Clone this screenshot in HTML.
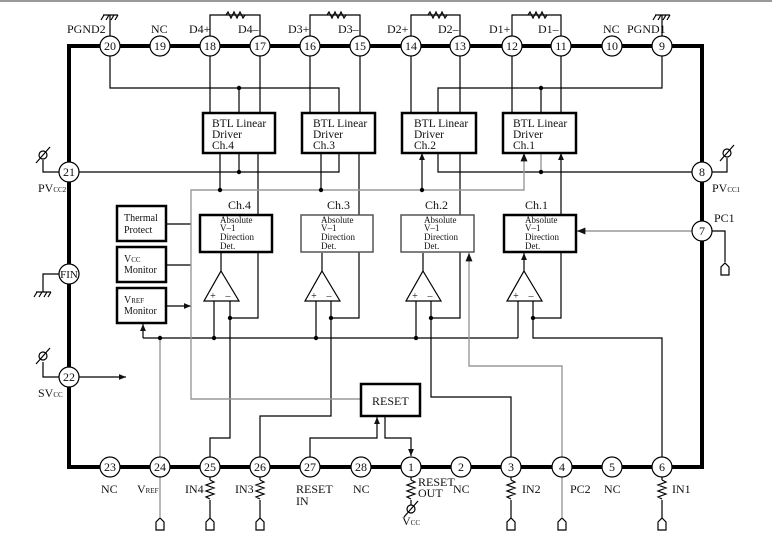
<!DOCTYPE html>
<html><head><meta charset="utf-8"><style>html,body{margin:0;padding:0;background:#fff}svg{display:block}text{font-family:"Liberation Serif",serif;fill:#111}</style></head><body>
<svg width="772" height="539" viewBox="0 0 772 539" xmlns="http://www.w3.org/2000/svg">
<defs>
<marker id="a" viewBox="0 0 6 6" refX="6" refY="3" markerWidth="6" markerHeight="6" orient="auto"><path d="M0,0.5 L6,3 L0,5.5z" fill="#111"/></marker>
<marker id="g" viewBox="0 0 6 6" refX="6" refY="3" markerWidth="6" markerHeight="6" orient="auto"><path d="M0,0.5 L6,3 L0,5.5z" fill="#111"/></marker>
</defs>
<line x1="0" y1="1" x2="772" y2="1" stroke="#333" stroke-width="1"/>
<rect x="69" y="46" width="633" height="421" fill="none" stroke="#000" stroke-width="4"/>

<g fill="none" stroke="#000" stroke-width="1.2">
<path d="M110,46V15M662,46V15"/>
<path d="M210,46V15H260V46M310,46V15H360V46M411,46V15H460V46M512,46V15H561V46"/>
<path d="M110,46V88H339V113M239,88V113M662,46V88H438V113M541,88V113"/>
<path d="M210,46V113M260,46V113M310,46V113M360,46V113M411,46V113M460,46V113M512,46V113M561,46V113"/>
<path d="M69,172H339V153M239,172V153M702,172H438V153"/>
<path d="M60,172H43V160M702,172H727V158"/>
<path d="M258,215V153M359,215V153M460,215V153M561,215V153" marker-end="url(#a)"/>
<path d="M258,252V318H230M359,252V318H331M460,252V318H431M561,252V318H533"/>
<path d="M214,301V338M316,301V338M416,301V338M518,301V338M143,338H518"/>
<path d="M230,301V438H210V457M331,301V416H260V457M431,301V397H511V457M533,301V338H662V457"/>
<path d="M221,271V253M322,271V253M423,271V253M524,271V253" marker-end="url(#a)"/>
<path d="M220,190V153M321,190V153M422,190V153" marker-end="url(#a)"/>
<path d="M166,224H191M166,265H191M166,306H191" marker-end="url(#a)"/>
<path d="M143,338V324" marker-end="url(#a)"/>
<path d="M79,377H126" marker-end="url(#a)"/>
<path d="M60,377H43V362"/>
<path d="M60,274H43V292"/>
<path d="M310,457V438H377V417" marker-end="url(#a)"/>
<path d="M385,416V438H411V456" marker-end="url(#a)"/>
<path d="M712,231H725V262"/>
<path d="M210,477V480M210,500V518M260,477V480M260,500V518M411,477V480M511,477V480M511,500V518M662,477V480M662,500V518"/>
<path d="M210,480l4,2l-8,3l8,3l-8,3l8,3l-8,3l4,2M260,480l4,2l-8,3l8,3l-8,3l8,3l-8,3l4,2M411,480l4,2l-8,3l8,3l-8,3l8,3l-8,3l4,2M511,480l4,2l-8,3l8,3l-8,3l8,3l-8,3l4,2M662,480l4,2l-8,3l8,3l-8,3l8,3l-8,3l4,2"/>
<path d="M411,500V505"/>
<path d="M226,15l2,-3l3,6l3,-6l3,6l3,-6l3,6l2,-3M327,15l2,-3l3,6l3,-6l3,6l3,-6l3,6l2,-3M428,15l2,-3l3,6l3,-6l3,6l3,-6l3,6l2,-3M528,15l2,-3l3,6l3,-6l3,6l3,-6l3,6l2,-3"/>
<path d="M103,15H118M104,15l-3,5M109,15l-3,5M114,15l-3,5M118,15l-3,5"/>
<path d="M655,15H670M656,15l-3,5M661,15l-3,5M666,15l-3,5M670,15l-3,5"/>
<path d="M36,292H51M37,292l-3,5M42,292l-3,5M47,292l-3,5M51,292l-3,5"/>
<circle cx="43" cy="155" r="4"/><path d="M36,163L50,147"/>
<circle cx="43" cy="356" r="4"/><path d="M36,364L50,348"/>
<circle cx="727" cy="153" r="4"/><path d="M720,161L734,145"/>
<circle cx="411" cy="509" r="4"/><path d="M404,517L418,501"/>
<path d="M156,530V522L160,518L164,522V530Z"/>
<path d="M206,530V522L210,518L214,522V530Z"/>
<path d="M256,530V522L260,518L264,522V530Z"/>
<path d="M507,530V522L511,518L515,522V530Z"/>
<path d="M558,530V522L562,518L566,522V530Z"/>
<path d="M658,530V522L662,518L666,522V530Z"/>
<path d="M721,275V267L725,263L729,267V275Z"/>
</g>
<g fill="none" stroke="#999" stroke-width="1.4">
<path d="M361,399H191V190H524V153" marker-end="url(#g)"/>
<path d="M541,172V153"/>
<path d="M160,338V457M160,477V518"/>
<path d="M562,457V366H469V253" marker-end="url(#g)"/>
<path d="M562,477V518"/>
<path d="M712,231H577" marker-end="url(#g)"/>
</g>
<g fill="#000">
<circle cx="239" cy="88" r="2.2"/><circle cx="541" cy="88" r="2.2"/>
<circle cx="239" cy="172" r="2.2"/><circle cx="541" cy="172" r="2.2"/>
<circle cx="220" cy="190" r="2.2"/><circle cx="321" cy="190" r="2.2"/><circle cx="422" cy="190" r="2.2"/>
<circle cx="230" cy="318" r="2.2"/><circle cx="331" cy="318" r="2.2"/><circle cx="431" cy="318" r="2.2"/><circle cx="533" cy="318" r="2.2"/>
<circle cx="214" cy="338" r="2.2"/><circle cx="316" cy="338" r="2.2"/><circle cx="416" cy="338" r="2.2"/><circle cx="160" cy="338" r="2.2"/>
</g>
<g fill="#fff" stroke="#000" stroke-width="2.5">
<rect x="203" y="113" width="72" height="40"/>
<rect x="302" y="113" width="73" height="40"/>
<rect x="402" y="113" width="74" height="40"/>
<rect x="503" y="113" width="73" height="40"/>
<rect x="200" y="215" width="72" height="37"/>
<rect x="504" y="215" width="72" height="37"/>
<rect x="117" y="206" width="49" height="35"/>
<rect x="117" y="247" width="49" height="35"/>
<rect x="117" y="288" width="49" height="35"/>
<rect x="361" y="384" width="59" height="32"/>
</g>
<g fill="#fff" stroke="#555" stroke-width="1.5">
<rect x="301" y="215" width="72" height="37"/>
<rect x="401" y="215" width="73" height="37"/>
</g>
<g fill="#fff" stroke="#000" stroke-width="1.2">
<path d="M221,271L239,301H204Z"/><path d="M322,271L340,301H305Z"/><path d="M423,271L441,301H406Z"/><path d="M524,271L542,301H507Z"/>
</g>
<g font-size="10" text-anchor="middle">
<text x="213" y="299">+</text><text x="228" y="299">–</text>
<text x="314" y="299">+</text><text x="329" y="299">–</text>
<text x="415" y="299">+</text><text x="430" y="299">–</text>
<text x="516" y="299">+</text><text x="531" y="299">–</text>
</g>
<g fill="#fff" stroke="#000" stroke-width="1.2">
<circle cx="110" cy="46" r="10"/><circle cx="160" cy="46" r="10"/><circle cx="210" cy="46" r="10"/><circle cx="260" cy="46" r="10"/><circle cx="310" cy="46" r="10"/><circle cx="360" cy="46" r="10"/><circle cx="411" cy="46" r="10"/><circle cx="460" cy="46" r="10"/><circle cx="512" cy="46" r="10"/><circle cx="561" cy="46" r="10"/><circle cx="612" cy="46" r="10"/><circle cx="662" cy="46" r="10"/>
<circle cx="110" cy="467" r="10"/><circle cx="160" cy="467" r="10"/><circle cx="210" cy="467" r="10"/><circle cx="260" cy="467" r="10"/><circle cx="310" cy="467" r="10"/><circle cx="361" cy="467" r="10"/><circle cx="411" cy="467" r="10"/><circle cx="461" cy="467" r="10"/><circle cx="511" cy="467" r="10"/><circle cx="562" cy="467" r="10"/><circle cx="612" cy="467" r="10"/><circle cx="662" cy="467" r="10"/>
<circle cx="69" cy="172" r="10"/><circle cx="69" cy="274" r="10"/><circle cx="69" cy="377" r="10"/>
<circle cx="702" cy="172" r="10"/><circle cx="702" cy="231" r="10"/>
</g>
<g font-size="12" text-anchor="middle">
<text x="110" y="50">20</text><text x="160" y="50">19</text><text x="210" y="50">18</text><text x="260" y="50">17</text><text x="310" y="50">16</text><text x="360" y="50">15</text><text x="411" y="50">14</text><text x="460" y="50">13</text><text x="512" y="50">12</text><text x="561" y="50">11</text><text x="612" y="50">10</text><text x="662" y="50">9</text>
<text x="110" y="471">23</text><text x="160" y="471">24</text><text x="210" y="471">25</text><text x="260" y="471">26</text><text x="310" y="471">27</text><text x="361" y="471">28</text><text x="411" y="471">1</text><text x="461" y="471">2</text><text x="511" y="471">3</text><text x="562" y="471">4</text><text x="612" y="471">5</text><text x="662" y="471">6</text>
<text x="69" y="176">21</text><text x="69" y="278" font-size="11">FIN</text><text x="69" y="381">22</text>
<text x="702" y="176">8</text><text x="702" y="235">7</text>
</g>
<g font-size="12">
<text x="67" y="33">PGND2</text><text x="151" y="33">NC</text><text x="189" y="33">D4+</text><text x="238" y="33">D4–</text>
<text x="288" y="33">D3+</text><text x="338" y="33">D3–</text><text x="387" y="33">D2+</text><text x="438" y="33">D2–</text>
<text x="489" y="33">D1+</text><text x="538" y="33">D1–</text><text x="603" y="33">NC</text><text x="627" y="33">PGND1</text>
<text x="38" y="192">PV<tspan font-size="7">CC2</tspan></text>
<text x="712" y="192">PV<tspan font-size="7">CC1</tspan></text>
<text x="714" y="222">PC1</text>
<text x="38" y="397">SV<tspan font-size="7">CC</tspan></text>
<text x="101" y="493">NC</text><text x="137" y="493">V<tspan font-size="7">REF</tspan></text>
<text x="185" y="493">IN4</text><text x="235" y="493">IN3</text>
<text x="296" y="493">RESET</text><text x="296" y="505">IN</text><text x="353" y="493">NC</text>
<text x="418" y="486">RESET</text><text x="418" y="497">OUT</text><text x="453" y="493">NC</text>
<text x="402" y="525">V<tspan font-size="7">CC</tspan></text>
<text x="522" y="493">IN2</text><text x="570" y="493">PC2</text><text x="604" y="493">NC</text><text x="672" y="493">IN1</text>
<text x="228" y="209">Ch.4</text><text x="327" y="209">Ch.3</text><text x="425" y="209">Ch.2</text><text x="525" y="209">Ch.1</text>
<text x="372" y="405">RESET</text>
</g>
<g font-size="11.5">
<text x="212" y="127">BTL Linear</text><text x="212" y="138">Driver</text><text x="212" y="149">Ch.4</text>
<text x="313" y="127">BTL Linear</text><text x="313" y="138">Driver</text><text x="313" y="149">Ch.3</text>
<text x="414" y="127">BTL Linear</text><text x="414" y="138">Driver</text><text x="414" y="149">Ch.2</text>
<text x="513" y="127">BTL Linear</text><text x="513" y="138">Driver</text><text x="513" y="149">Ch.1</text>
</g>
<g font-size="10">
<text x="124" y="221">Thermal</text><text x="124" y="233">Protect</text>
<text x="124" y="262">V<tspan font-size="7">CC</tspan></text><text x="124" y="273">Monitor</text>
<text x="124" y="303">V<tspan font-size="7">REF</tspan></text><text x="124" y="314">Monitor</text>
</g>
<g font-size="9">
<text x="220" y="223">Absolute</text><text x="220" y="231">V–1</text><text x="220" y="240">Direction</text><text x="220" y="249">Det.</text>
<text x="321" y="223">Absolute</text><text x="321" y="231">V–1</text><text x="321" y="240">Direction</text><text x="321" y="249">Det.</text>
<text x="424" y="223">Absolute</text><text x="424" y="231">V–1</text><text x="424" y="240">Direction</text><text x="424" y="249">Det.</text>
<text x="525" y="223">Absolute</text><text x="525" y="231">V–1</text><text x="525" y="240">Direction</text><text x="525" y="249">Det.</text>
</g>
</svg>
</body></html>
